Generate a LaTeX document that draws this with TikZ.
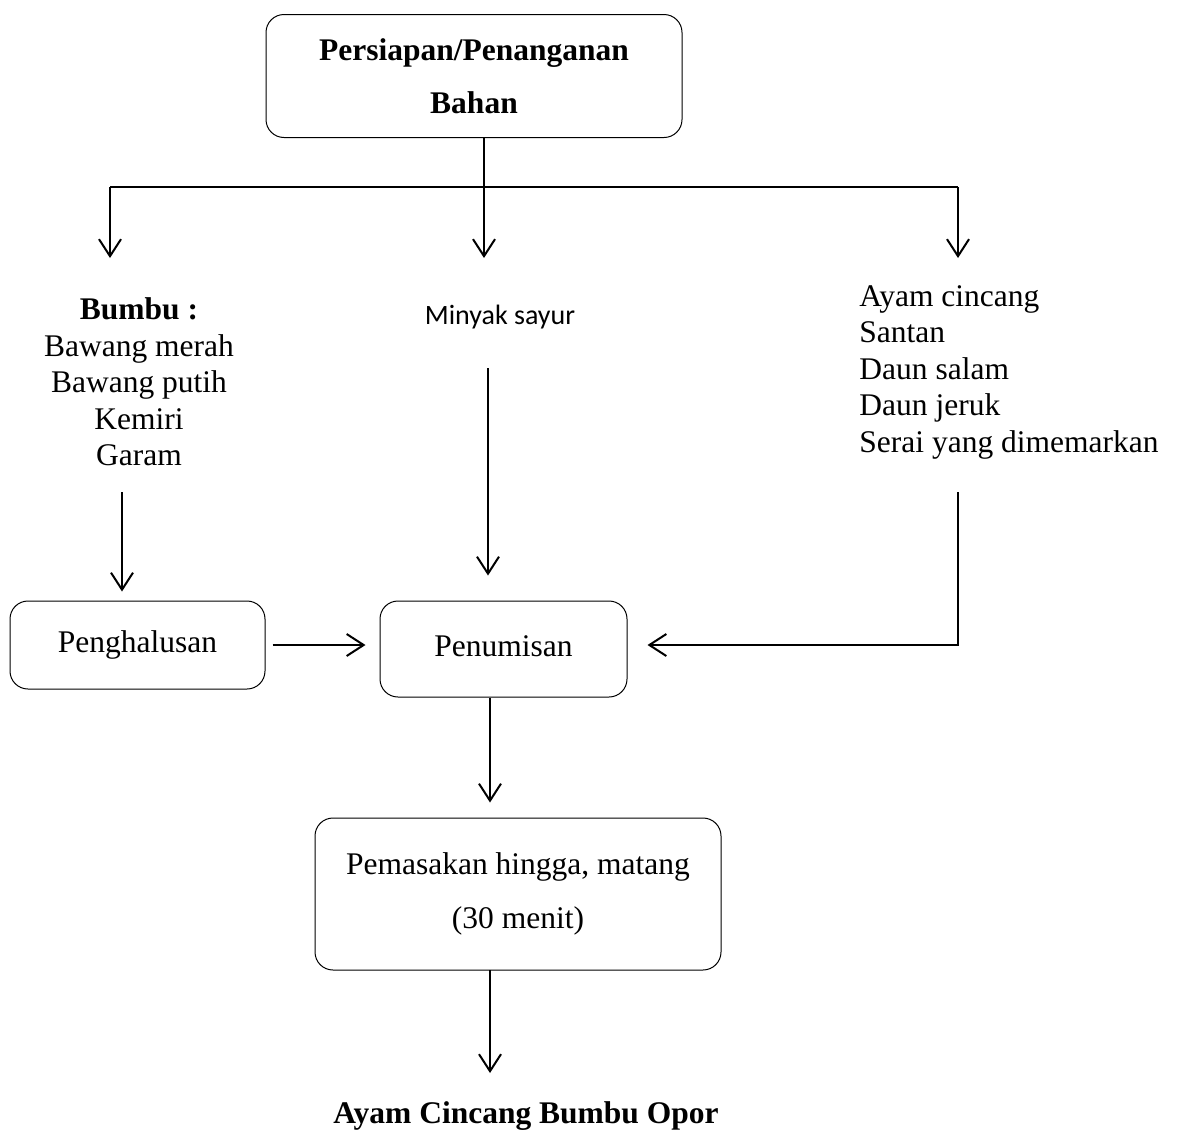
\documentclass[tikz,border=0pt]{standalone}
\usepackage{fontspec}
\setmainfont{Liberation Serif}
\newfontfamily\calib{Carlito}
\usetikzlibrary{arrows.meta}
\begin{document}
\begin{tikzpicture}[x=1pt,y=-1pt,
  box/.style={draw, line width=1pt, rounded corners=18pt, inner sep=0pt, align=center},
  conn/.style={line width=2pt},
  arr/.style={conn, -{Straight Barb[length=17pt,width=22pt,line width=2pt]}},
  txt/.style={font=\fontsize{31.5}{36.5}\selectfont, inner sep=0pt}
]
\useasboundingbox (0,0) rectangle (1178,1133);
% boxes
\node[box, txt, font=\fontsize{31.5}{53}\selectfont\bfseries, minimum width=416pt, minimum height=123pt] (top) at (474,76) {Persiapan/Penanganan\\Bahan};
\node[box, txt, minimum width=255pt, minimum height=88pt] (peng) at (137.5,645) {\raisebox{4pt}{Penghalusan}};
\node[box, txt, minimum width=247pt, minimum height=96pt] (penum) at (503.5,649) {\raisebox{6pt}{Penumisan}};
\node[box, txt, font=\fontsize{31.5}{54}\selectfont, minimum width=406pt, minimum height=152pt] (pem) at (518,894) {Pemasakan hingga, matang\\(30 menit)};
% texts
\node[txt, align=center] (bumbu) at (139,382) {\textbf{Bumbu :}\\Bawang merah\\Bawang putih\\Kemiri\\Garam};
\node[inner sep=0pt, font=\calib\fontsize{28}{34}\selectfont] (minyak) at (500,317) {Minyak sayur};
\node[txt, align=left] (ayam) at (1009,372) {Ayam cincang\\Santan\\Daun salam\\Daun jeruk\\Serai yang dimemarkan};
\node[txt, font=\fontsize{31.5}{37}\selectfont\bfseries] (hasil) at (526,1116) {Ayam Cincang Bumbu Opor};
% junction coordinates
\coordinate (j) at (484,187);
\coordinate (jl) at (110,187);
\coordinate (jr) at (958,187);
\coordinate (al) at (110,258);
\coordinate (am) at (484,258);
\coordinate (ar) at (958,258);
\coordinate (bl) at (122,492);
\coordinate (ml) at (488,368);
\coordinate (rl) at (958,492);
\coordinate (rc) at (958,645);
\coordinate (pl) at (490,970);
\coordinate (pe) at (490,1073);
% connectors
\draw[arr] (top.south -| j) -- (am);
\draw[conn] (jl) -- (jr);
\draw[arr] (jl) -- (al);
\draw[arr] (jr) -- (ar);
\draw[arr, shorten >=9pt] (bl) -- (peng.north -| bl);
\draw[arr, shorten >=25pt] (ml) -- (penum.north -| ml);
\draw[arr, shorten >=20pt] (rl) -- (rc) -- (penum.east |- rc);
\draw[arr, shorten <=7pt, shorten >=14pt] (peng.east) -- (penum.west |- peng.east);
\draw[arr, shorten >=15pt] (penum.south -| pl) -- (pem.north -| pl);
\draw[arr] (pl) -- (pe);
\end{tikzpicture}
\end{document}
